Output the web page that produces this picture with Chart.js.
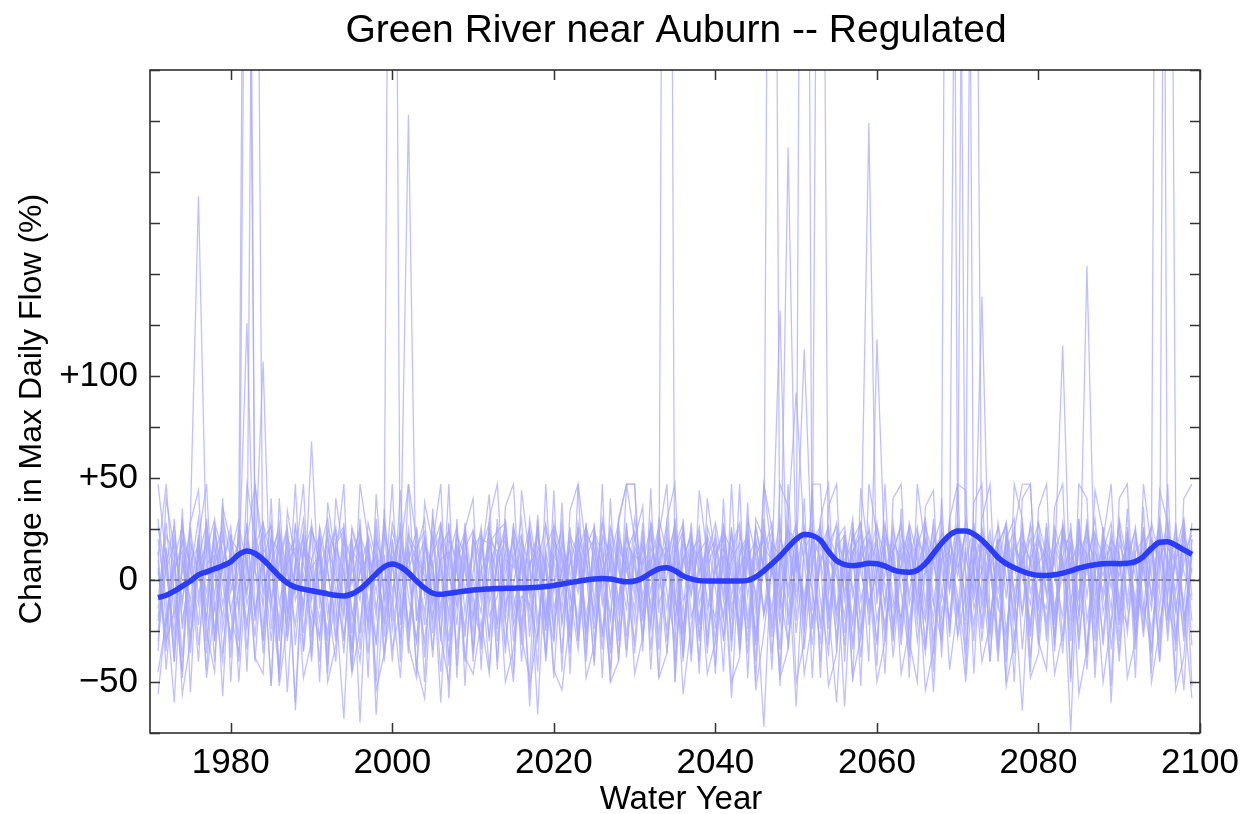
<!DOCTYPE html>
<html>
<head>
<meta charset="utf-8">
<script src="https://cdn.jsdelivr.net/npm/chart.js@4.4.1/dist/chart.umd.min.js"></script>
<style>
html,body{margin:0;padding:0;background:#fff;}
#wrap{width:1253px;height:814px;position:relative;}
</style>
</head>
<body>
<div id="wrap"><canvas id="c" width="1253" height="814"></canvas></div>
<script>
// Water years 1971..2099
const firstYear = 1971, lastYear = 2099;
const years = [];
for (let y = firstYear; y <= lastYear; y++) years.push(y);

const xTickYears = [1980, 2000, 2020, 2040, 2060, 2080, 2100];
const yTickLabels = [-50, 0, 50, 100];
const yMinorTicks = [-75, -50, -25, 0, 25, 50, 75, 100, 125, 150, 175, 200, 225, 250];

// Smoothed ensemble mean (% change)
const smoothMean = [
 -8.6,-7.5,-5.5,-3,-0.5,2.5,4,5.5,7,9,
 12.5,14.2,13,10,6,2,-1.5,-3.5,-4.5,-5.3,
 -6,-6.8,-7.5,-7.8,-6.8,-4.5,-1,3,6.5,7.8,
 6.5,3.5,-0.5,-4,-6.5,-7,-6.5,-6,-5.4,-4.9,
 -4.6,-4.4,-4.2,-4.1,-4,-3.9,-3.8,-3.6,-3.2,-2.7,
 -2,-1.3,-0.6,0,0.5,0.7,0.5,-0.3,-0.9,-0.5,
 1,3.5,5.5,6,4.5,2,0.5,-0.3,-0.5,-0.5,
 -0.5,-0.5,-0.5,-0.2,1.5,4.5,8,11.7,16,20,
 22.3,21.8,19.5,14,9.5,7.5,7,7.5,8.2,8,
 6.8,5,4,3.8,4.8,8,13,18,22,24,
 24,22.5,19.5,15.5,11,8,6,4.3,3,2.3,
 2.2,2.6,3.4,4.5,5.8,6.8,7.5,8,8.1,8,
 8.2,9,11.5,15.5,18.5,18.8,17,14.8,12.6
];

// Individual climate-scenario runs (% change)
const run01 = [
 -20,5,18,-12,30,188,10,-25,8,22,
 -5,26,-18,12,-30,8,24,-10,3,-22,
 15,-35,-8,20,-15,-40,5,12,-20,18,
 -10,25,-5,-30,10,-45,14,-8,22,-18,
 6,-28,30,-12,-2,20,-62,8,-15,26,
 -22,10,-6,28,-30,4,18,-40,12,-8,
 20,-15,6,-25,30,-10,-2,15,-32,8,
 -18,24,-6,10,-28,47,12,-12,30,92,
 20,-20,8,26,-14,2,-30,16,24,-8,
 14,-24,6,22,-10,-36,18,30,-4,26,
 -15,8,20,-28,4,12,-20,28,-6,10,
 -24,16,6,-14,30,-8,20,-32,10,2,
 18,-20,26,-10,30,6,-26,12,22
];
const run02 = [
 10,-30,-15,20,8,-40,26,4,-18,12,
 30,620,5,-12,20,-26,8,16,-35,4,
 -20,12,26,-30,6,-10,18,-66,0,24,
 8,-22,14,30,-18,4,-38,10,20,-12,
 -30,18,2,-20,26,8,-14,30,-25,12,
 4,-36,20,10,-16,28,-8,14,-28,22,
 -12,8,26,-6,-30,18,4,-20,12,28,
 6,-58,14,22,-10,30,-24,8,18,-6,
 780,-15,24,4,-28,18,10,-18,26,2,
 -22,14,28,-12,6,20,-30,10,24,-16,
 30,4,-20,16,8,-34,22,2,-12,18,
 8,-26,12,24,-18,6,30,-10,14,-36,
 20,2,-16,28,10,-24,14,30,-8
];
const run03 = [
 -25,15,-40,8,-10,22,-30,12,26,-15,
 6,126,-20,28,10,-44,16,-6,24,-28,
 4,20,-12,-68,14,8,-22,26,-36,10,
 22,-8,-30,16,6,-18,28,-42,12,0,
 -16,24,10,-36,18,-4,22,-20,8,-48,
 14,-10,26,-24,2,20,-32,16,6,-14,
 28,-20,10,18,-40,8,24,-12,4,-30,
 16,2,-26,30,12,-16,20,-44,26,8,
 -10,12,620,-20,22,-6,14,-38,10,28,
 -4,-28,18,8,-16,26,12,-30,20,2,
 24,-14,6,-40,16,28,-6,10,-22,14,
 -30,20,8,-74,26,-20,4,16,-60,22,
 10,-18,24,2,-30,16,8,-12,28
];
const run04 = [
 12,47,-8,-45,18,4,-20,26,-12,8,
 -30,480,20,-6,14,24,-55,10,-14,28,
 -8,-26,16,4,-44,22,10,-18,30,-6,
 14,47,-20,8,-34,18,2,-12,24,-40,
 20,18,24,28,-22,-8,-12,-30,26,4,
 -36,22,12,-18,8,-28,24,6,-14,30,
 2,-24,18,10,-12,26,-40,14,20,-4,
 -28,12,26,-8,20,-16,4,30,-34,10,
 113,6,-20,22,12,-32,26,-10,8,18,
 -12,28,-6,-38,20,10,-20,24,4,-26,
 16,-30,26,8,-14,20,-6,-64,14,28,
 -8,10,-36,22,4,26,-16,12,-24,18,
 6,26,-12,-34,20,10,-6,24,-20
];
const run05 = [
 -56,-18,10,26,-28,14,-6,20,-36,4,
 18,-8,540,-24,8,28,-16,-4,22,-40,
 26,6,-30,14,-2,20,-26,8,12,-34,
 -14,10,24,-38,16,28,-10,6,-28,20,
 8,-44,14,22,-8,-26,30,4,-18,12,
 24,-6,-34,16,26,-12,8,-24,20,10,
 -30,16,4,28,-20,12,-8,24,-36,14,
 22,-18,8,-30,26,6,-14,20,10,-62,
 18,28,-24,10,2,-18,24,8,224,-12,
 26,6,-32,14,-22,20,8,-10,30,-28,
 -6,22,12,-26,28,2,-36,18,10,-14,
 20,-22,28,6,-10,14,-40,24,2,26,
 -14,12,-28,20,8,30,-10,-54,16
];
const run06 = [
 6,-35,22,-10,14,-22,30,-14,8,26,
 -16,20,8,107,-24,10,26,-32,14,4,
 -40,16,2,-18,24,10,-36,20,6,-10,
 28,-30,12,2,-20,26,8,-34,16,24,
 -6,12,-40,18,10,-14,24,-2,-36,20,
 10,-28,16,4,-40,22,12,-16,26,-4,
 16,6,-26,22,-6,-34,18,10,-20,24,
 -10,26,-36,14,4,22,-28,12,-4,20,
 -26,47,47,-32,20,26,-8,16,-40,118,
 8,-14,22,12,-30,4,26,-18,14,-8,
 -36,18,4,24,-12,-28,16,8,26,-20,
 14,2,-18,28,-34,20,10,-6,24,-12,
 -22,18,6,-14,26,-30,20,4,-10
];
const run07 = [
 20,-10,-60,12,-30,6,18,-40,24,-6,
 10,-22,16,28,-8,-46,12,20,-18,68,
 -14,24,-28,10,20,-70,14,-6,26,-24,
 4,16,-46,22,-12,10,-30,24,-6,14,
 -34,6,20,-16,28,-40,8,14,-22,18,
 -8,26,-30,12,20,-6,-44,22,8,-20,
 24,-34,10,-14,16,28,-18,-6,20,-42,
 12,6,-22,24,-40,14,28,-8,-30,16,
 -20,22,10,-14,-60,8,20,28,-12,4,
 18,-38,8,26,-4,-20,14,22,820,10,
 -24,12,-8,20,6,-40,26,-16,10,22,
 -6,24,-30,8,18,-44,14,2,20,-20,
 26,-34,10,16,-22,4,24,-14,-58
];
const run08 = [
 -30,8,26,-20,4,30,-36,16,-2,-28,
 24,-12,6,-30,20,14,-24,26,8,-10,
 16,-42,20,26,-18,4,12,-32,18,700,
 -22,14,6,-16,24,-28,20,10,-40,4,
 26,-18,-8,14,-46,20,6,24,-12,-30,
 18,4,-20,26,10,-34,16,-10,22,6,
 -18,28,-12,2,22,-24,10,-40,26,12,
 20,-30,4,18,-16,26,8,-22,12,28,
 -34,10,20,-6,14,-26,22,4,-16,26,
 10,-20,16,-34,24,8,-12,20,-26,14,
 640,-10,24,6,-28,16,-18,22,8,-32,
 26,-14,10,-24,20,12,-30,18,-4,28,
 -10,22,4,-26,14,-8,28,-20,6
];
const run09 = [
 14,-44,4,18,-20,10,28,-30,12,-16,
 -36,18,47,4,-14,22,-28,6,30,-8,
 20,-18,8,-36,26,12,-22,30,-10,14,
 6,228,-20,12,-38,16,24,-14,8,-26,
 14,28,-30,4,20,-22,10,-66,16,26,
 -20,8,24,-30,14,-4,26,10,-38,16,
 6,-22,30,14,-10,-28,20,4,16,-24,
 28,-14,10,-36,18,8,-20,26,-8,14,
 -16,24,-40,12,28,4,-22,14,6,-30,
 22,12,-24,18,-8,28,-36,10,14,520,
 -20,28,-14,6,20,-26,12,24,-38,8,
 16,-32,22,10,-16,26,4,-28,20,12,
 -26,14,20,-8,24,-18,10,26,-32
];
const run10 = [
 26,4,-26,30,-16,12,-44,8,20,-2,
 -12,28,-40,16,6,-20,22,-64,14,26,
 8,-30,18,24,-26,14,-4,20,-40,12,
 -32,20,10,-22,30,6,-16,22,12,-36,
 18,-8,26,-32,12,22,-20,8,28,-14,
 4,16,-26,20,-10,30,6,-36,14,24,
 -8,12,-16,900,-50,20,8,26,-14,4,
 16,-26,22,8,-6,-72,18,12,-18,26,
 10,-32,16,26,-20,6,30,-26,12,20,
 -14,24,4,-22,16,30,-10,-30,18,6,
 24,560,-12,14,-34,22,8,-16,28,4,
 -20,14,26,-10,6,-36,22,12,-14,30,
 8,-24,16,26,-40,12,-16,22,10
];
const run11 = [
 -14,22,12,-38,26,-8,14,30,-24,6,
 20,-34,10,24,-10,16,-30,8,22,-16,
 -28,8,24,-12,16,-34,22,6,-16,28,
 12,-36,26,-8,14,22,-58,16,4,-20,
 24,-12,8,20,-30,14,-6,26,-40,10,
 -14,20,6,-40,24,12,-18,28,-6,-30,
 16,-6,24,-30,10,-16,28,-22,12,20,
 -30,10,18,-20,26,4,720,-14,22,-26,
 14,24,-10,-36,16,22,-4,-28,20,10,
 -30,18,10,26,-14,6,-55,24,12,-18,
 12,-6,139,-22,18,26,-30,10,20,-12,
 28,-18,4,16,-30,10,24,-16,6,-40,
 12,24,-20,8,28,-12,-30,18,4
];
const run12 = [
 30,-22,6,14,-36,20,-12,24,4,-30,
 -4,12,-28,20,26,-12,10,-60,18,6,
 12,-10,-40,22,8,26,-16,14,-28,20,
 -18,6,16,24,-26,10,14,-22,28,-8,
 -28,20,14,-6,24,-32,18,10,-20,28,
 12,-24,28,8,-18,16,-36,20,4,14,
 -26,22,-4,12,26,-38,14,20,-10,-18,
 24,14,-34,10,20,-18,6,132,-22,12,
 -8,20,26,-16,8,-62,14,22,-12,4,
 28,-10,-18,20,10,-32,22,6,-20,24,
 4,-22,18,10,-40,14,24,47,47,-26,
 20,8,115,-20,14,22,-12,26,-34,6,
 16,-10,24,-36,10,22,-14,8,26
];
const run13 = [
 -10,28,-18,4,24,-32,8,12,-57,20,
 14,-6,24,-36,8,20,-14,28,-26,10,
 22,4,-20,28,-34,6,20,-14,10,-40,
 16,-24,8,20,-10,28,-20,12,24,-34,
 4,16,-22,30,-14,8,26,-28,14,-6,
 28,-16,10,-26,22,6,-20,24,-34,12,
 8,26,-34,16,-20,10,22,-28,6,18,
 -6,22,-14,28,-32,10,24,-20,212,4,
 26,-24,12,6,-16,24,-34,10,20,-20,
 4,20,-28,10,26,-12,18,-24,8,28,
 -32,10,22,-18,6,28,-12,16,-28,20,
 10,-18,26,4,-26,154,-8,20,14,-22,
 24,-28,8,20,-14,26,6,-26,14
];
const run14 = [
 4,-30,30,-24,10,16,-20,28,14,-38,
 26,8,-16,12,-52,24,4,-22,16,10,
 -30,26,12,-16,20,-26,28,10,-22,6,
 24,2,-30,18,8,-60,12,26,-16,20,
 -10,26,-24,10,6,30,-28,16,8,-20,
 22,-30,14,26,-24,10,20,-12,28,-36,
 10,-12,20,6,28,-26,14,-30,22,8,
 -20,16,28,-24,12,22,-36,6,26,-10,
 22,-6,-30,18,26,-10,12,28,-22,14,
 -26,14,26,-8,20,-34,10,16,-6,24,
 10,26,-24,14,-6,20,30,-34,12,-8,
 -14,26,10,-30,22,6,-20,14,28,-10,
 20,-14,12,26,820,-20,14,-30,20
];
const run15 = [
 -18,16,-34,26,6,-12,22,-8,30,10,
 8,-24,22,6,28,-30,20,12,-12,24,
 14,30,-6,-28,12,24,-10,-30,22,8,
 -28,22,14,-6,20,-14,26,4,-24,16,
 22,-30,12,26,-20,10,-8,22,4,-24,
 6,14,-30,22,16,-26,10,28,47,47,
 -20,28,8,-36,14,24,-6,18,-28,10,
 26,-8,12,20,-30,16,10,-34,24,20,
 -14,6,28,-24,18,10,-20,26,4,-32,
 20,8,-20,28,12,-18,30,-6,-20,16,
 -10,20,-30,12,26,-8,18,6,-24,28,
 12,-28,20,18,-8,30,-26,10,16,-16,
 22,8,-24,14,-6,700,26,-20,12
];
const run16 = [
 47,10,-40,35,-55,20,47,-30,40,-50,
 30,-45,47,15,-52,40,-20,47,-35,25,
 -50,38,10,47,-45,30,-48,42,-10,47,
 -40,47,20,-50,35,-30,47,-48,25,40,
 -44,30,47,-20,-50,44,10,-45,47,-30,
 38,-46,47,15,-42,47,-50,30,47,47,
 -35,45,-48,30,47,-40,20,-46,40,10,
 -45,47,-30,38,-50,47,25,-52,47,-20,
 40,-48,30,47,-35,20,-50,45,10,-42,
 47,-30,35,-48,47,15,-45,40,-28,47,
 -46,38,47,-40,20,-50,47,30,-45,35,
 47,-35,25,-50,47,40,-48,20,47,-30,
 35,-48,47,15,-40,47,-35,30,-52
];
const run17 = [
 -35,40,15,-48,28,44,-25,-45,36,18,
 -40,47,22,-30,40,-50,34,10,47,-38,
 26,-46,40,12,-36,47,20,-50,35,-20,
 44,-32,-48,38,18,47,-42,30,-52,24,
 10,42,-44,36,47,-28,-48,32,-38,44,
 -45,34,47,-36,28,-48,40,-30,47,20,
 36,-44,22,47,-50,30,-36,44,12,-46,
 40,-35,47,-48,30,20,-44,47,36,-50,
 -30,44,-48,36,47,-40,28,-52,47,22,
 -46,40,47,-30,-50,36,44,-38,30,47,
 44,-46,30,47,-36,24,-50,40,47,-30,
 -44,36,47,-48,30,-38,44,24,-52,40,
 47,-30,36,-46,44,28,-50,40,47
];
const run18 = [
 -45,-20,10,-56,-30,18,-48,-12,-40,22,
 -50,10,-38,-46,24,-52,-20,8,-48,-30,
 14,-50,-32,6,-46,-24,20,-54,-36,-10,
 -48,16,-42,-58,4,-28,-50,18,-38,-46,
 -20,-46,12,-50,-34,8,-52,-26,14,-44,
 -54,-18,20,-48,-32,6,-50,-40,16,-46,
 -28,10,-48,-36,18,-56,-22,6,-46,-30,
 12,-50,-38,20,-54,-26,8,-48,-34,14,
 -46,-20,10,-52,-36,22,-48,-28,4,-50,
 -30,16,-46,-24,8,-54,-34,18,-44,-12,
 -50,6,-40,-22,20,-52,-30,12,-48,-36,
 10,-46,-26,18,-56,-34,6,-50,-20,14,
 -48,-30,16,-50,-24,8,-54,-38,20
];

const runs = [run01, run02, run03, run04, run05, run06, run07, run08, run09,
              run10, run11, run12, run13, run14, run15, run16, run17, run18];

const FONT = '"Liberation Sans", Arial, Helvetica, sans-serif';
const toXY = arr => arr.map((v, i) => ({x: years[i], y: v}));

const datasets = [];
datasets.push({
  label: 'Smoothed mean',
  data: toXY(smoothMean),
  borderColor: '#2a3cff',
  borderWidth: 5.5,
  pointRadius: 0,
  tension: 0.4,
  cubicInterpolationMode: 'monotone',
  fill: false
});
datasets.push({
  label: 'zero',
  data: [{x: 1970, y: 0}, {x: 2100, y: 0}],
  borderColor: '#555555',
  borderWidth: 1.2,
  borderDash: [5, 3],
  pointRadius: 0,
  fill: false
});
runs.forEach((r, k) => {
  datasets.push({
    label: 'run' + (k + 1),
    data: toXY(r),
    borderColor: 'rgba(165,165,255,0.7)',
    borderWidth: 1.3,
    pointRadius: 0,
    tension: 0,
    fill: false
  });
});

const frameTicks = {
  id: 'frameTicks',
  afterDraw(chart) {
    const {ctx, chartArea: a, scales} = chart;
    const xs = scales.x, ys = scales.y;
    ctx.save();
    ctx.strokeStyle = '#222';
    ctx.lineWidth = 1.5;
    ctx.strokeRect(a.left, a.top, a.right - a.left, a.bottom - a.top);
    ctx.strokeStyle = '#333';
    const L = 10;
    ctx.beginPath();
    xTickYears.forEach(v => {
      const px = Math.round(xs.getPixelForValue(v)) + 0.5;
      ctx.moveTo(px, a.bottom); ctx.lineTo(px, a.bottom - L);
      ctx.moveTo(px, a.top); ctx.lineTo(px, a.top + L);
    });
    yMinorTicks.forEach(v => {
      const py = Math.round(ys.getPixelForValue(v)) + 0.5;
      ctx.moveTo(a.left, py); ctx.lineTo(a.left + L, py);
      ctx.moveTo(a.right, py); ctx.lineTo(a.right - L, py);
    });
    ctx.stroke();
    // title
    ctx.fillStyle = '#000';
    ctx.font = '39px ' + FONT;
    ctx.textAlign = 'center';
    ctx.textBaseline = 'alphabetic';
    ctx.fillText('Green River near Auburn -- Regulated', 676, 42);
    // x axis title
    ctx.font = '33px ' + FONT;
    ctx.fillText('Water Year', 681, 809);
    // y axis title
    ctx.save();
    ctx.translate(41, 409);
    ctx.rotate(-Math.PI / 2);
    ctx.font = '32px ' + FONT;
    ctx.fillText('Change in Max Daily Flow (%)', 0, 0);
    ctx.restore();
    ctx.restore();
  }
};

new Chart(document.getElementById('c'), {
  type: 'line',
  data: {datasets},
  options: {
    responsive: false,
    animation: false,
    events: [],
    layout: {padding: {top: 70, right: 53, left: 0, bottom: 0}},
    plugins: {legend: {display: false}, tooltip: {enabled: false}, title: {display: false}},
    scales: {
      x: {
        type: 'linear',
        min: 1970, max: 2100,
        afterBuildTicks: s => { s.ticks = xTickYears.map(v => ({value: v})); },
        afterFit: s => { s.height = 81; },
        grid: {display: false, drawTicks: false},
        border: {display: false},
        ticks: {color: '#000', font: {family: FONT, size: 35}, padding: 9, maxRotation: 0, autoSkip: false,
                callback: v => String(v)}
      },
      y: {
        type: 'linear',
        min: -75, max: 250,
        afterBuildTicks: s => { s.ticks = yTickLabels.map(v => ({value: v})); },
        afterFit: s => { s.width = 150; },
        grid: {display: false, drawTicks: false},
        border: {display: false},
        ticks: {color: '#000', font: {family: FONT, size: 35}, padding: 12, autoSkip: false,
                callback: v => v > 0 ? '+' + v : (v < 0 ? '\u2212' + Math.abs(v) : '0')}
      }
    }
  },
  plugins: [frameTicks]
});
</script>
</body>
</html>
